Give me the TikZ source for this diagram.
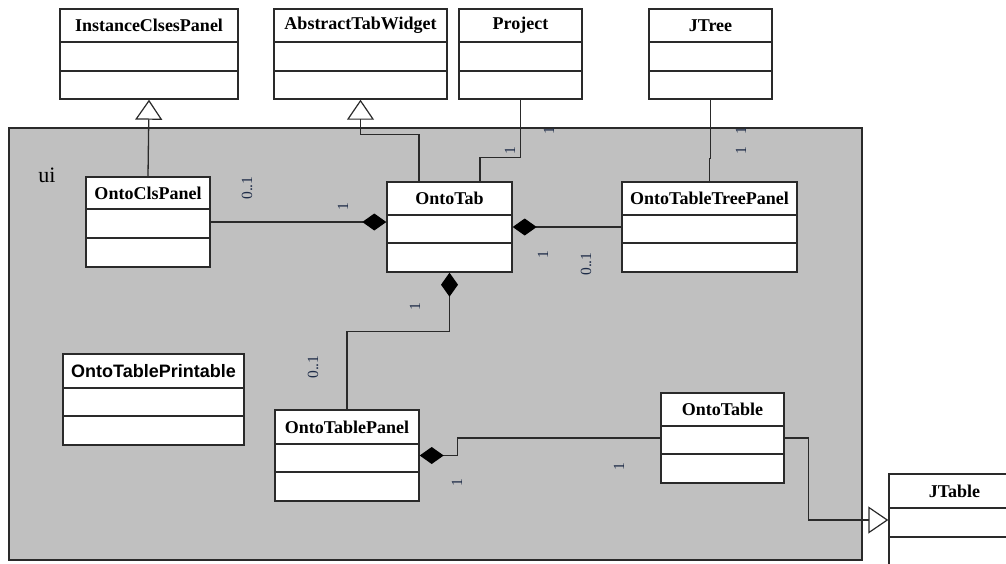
\documentclass[tikz,border=0pt]{standalone}
\usepackage{fontspec}
\setmainfont{Liberation Serif}
\newfontfamily\arialfont{Liberation Sans}
\usetikzlibrary{arrows.meta,fit}

\definecolor{pkgfill}{HTML}{C0C0C0}
\definecolor{edge}{HTML}{2A2A2A}
\definecolor{multc}{HTML}{1E2C48}

\tikzset{
  classbox/.style={draw=edge, line width=1.4pt, fill=white, inner sep=0pt},
  classrule/.style={draw=edge, line width=1.4pt},
  classtitle/.style={font=\bfseries\fontsize{18}{18}\selectfont, inner sep=0pt},
  pkg/.style={draw=edge, line width=1.5pt, fill=pkgfill, inner sep=0pt},
  link/.style={draw=edge, line width=1.3pt},
  gen/.style={link, -{Triangle[open, length=20pt, width=27pt, line width=1.2pt]}},
  comp/.style={link, -{Diamond[length=24pt, width=17pt, fill=black, color=black]}},
  mult/.style={font=\fontsize{15.5}{15.5}\selectfont, text=multc, rotate=90, inner sep=0pt},
}

% class box: name, x1, y1, x2, y2, first rule, second rule, title, title font
\newcommand{\umlclass}[9]{%
  \node[classbox, fit={(#2,#3)(#4,#5)}] (#1) {};
  \draw[classrule] (#2,#6) -- (#4,#6) (#2,#7) -- (#4,#7);
  \node[classtitle, #9] (#1-title) at ({(#2+#4)/2},{(#3+#6)/2}) {#8};
}

\begin{document}
\begin{tikzpicture}[x=1pt, y=-1pt]
  \useasboundingbox (0,0) rectangle (1006,563);
  \clip (0,0) rectangle (1006,563);

  % package ui
  \node[pkg, fit={(9,128)(862,560)}] (ui) {};
  \node[font=\fontsize{22}{22}\selectfont, inner sep=0pt] (ui-label) at (47,175) {ui};

  % outer classes
  \umlclass{icp}{60}{9}{238}{99}{42}{71}{InstanceClsesPanel}{}
  \umlclass{atw}{274}{9}{447}{99}{42}{71}{AbstractTabWidget}{}
  \umlclass{proj}{459}{9}{582}{99}{42}{71}{Project}{}
  \umlclass{jtree}{649}{9}{772}{99}{42}{71}{JTree}{}
  \umlclass{jt}{889}{474}{1020}{566}{508}{537}{JTable}{}

  % classes of ui
  \umlclass{ocp}{86}{177}{210}{267}{209}{238}{OntoClsPanel}{}
  \umlclass{otab}{387}{182}{512}{272}{215}{243}{OntoTab}{}
  \umlclass{ottp}{622}{182}{797}{272}{215}{243}{OntoTableTreePanel}{}
  \umlclass{otpr}{63}{354}{244}{445}{388}{416}{OntoTablePrintable}{font=\arialfont\bfseries\fontsize{18}{18}\selectfont}
  \umlclass{otpn}{275}{410}{419}{501}{444}{472}{OntoTablePanel}{}
  \umlclass{ot}{661}{393}{784}{483}{426}{454}{OntoTable}{}

  % generalizations
  \draw[gen] (ocp.north) -- (icp.south);
  \draw[gen] ([xshift=-30.5pt]otab.north) -- ++(0,-47) -| (atw.south);
  \draw[gen] (ot.east) -- ++(24,0) |- (jt.west);

  % associations
  \draw[link] (proj.south) -- ++(0,58) -| ([xshift=30.5pt]otab.north);
  \draw[link] (jtree.south) -- ++(0,59) -| (ottp.north);

  % compositions
  \draw[comp] (ocp.east) -- (ocp.east -| otab.west);
  \draw[comp] (ottp.west) -- (otab.east);
  \draw[comp] (otpn.north) -- ++(0,-78) -| (otab.south);
  \draw[comp] (ot.west) -| ([xshift=38pt]otpn.east) -- (otpn.east);

  % multiplicities
  \node[mult] (m-proj-a) at (549,131) {1};
  \node[mult] (m-proj-b) at (510,151) {1};
  \node[mult] (m-jtree-a) at (741,131) {1};
  \node[mult] (m-jtree-b) at (741,151) {1};
  \node[mult] (m-ocp-a) at (247,188) {0..1};
  \node[mult] (m-ocp-b) at (343,207) {1};
  \node[mult] (m-ottp-a) at (543,255) {1};
  \node[mult] (m-ottp-b) at (586,264) {0..1};
  \node[mult] (m-otpn-a) at (415,307) {1};
  \node[mult] (m-otpn-b) at (313,367) {0..1};
  \node[mult] (m-ot-a) at (457,483) {1};
  \node[mult] (m-ot-b) at (619,467) {1};
\end{tikzpicture}
\end{document}
